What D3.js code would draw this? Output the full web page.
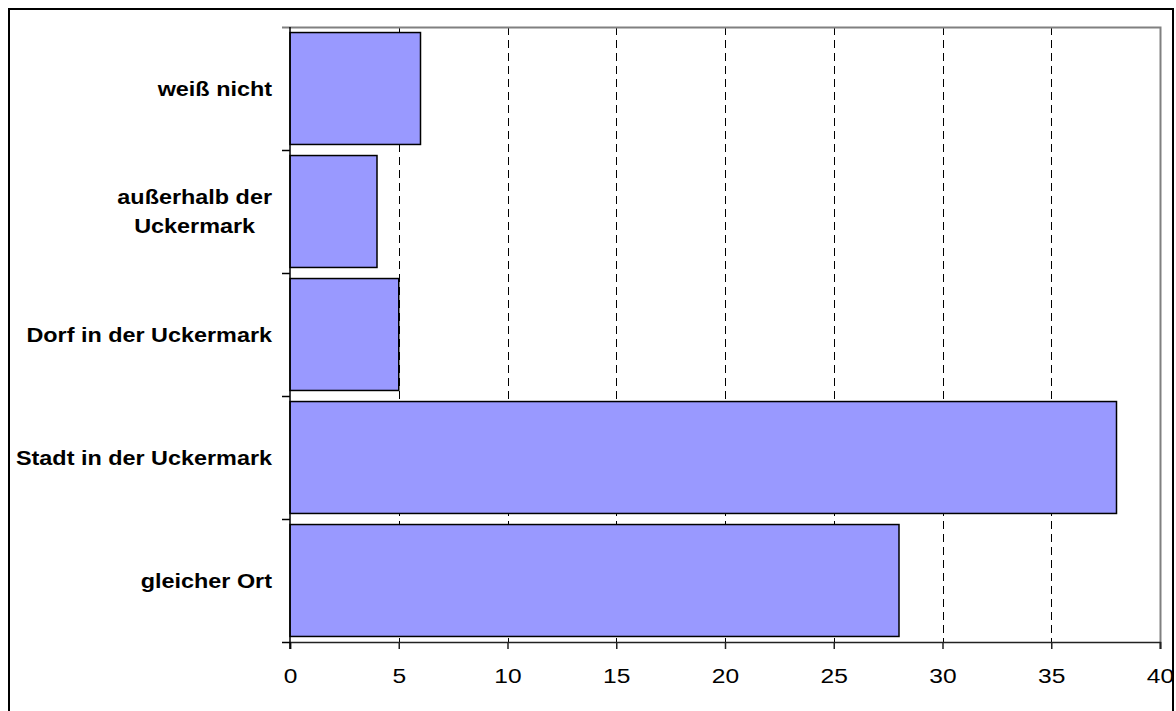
<!DOCTYPE html>
<html>
<head>
<meta charset="utf-8">
<script src="https://cdn.jsdelivr.net/npm/d3@7"></script>
<style>
  html, body { margin: 0; padding: 0; background: #fff; }
  svg { display: block; font-family: "Liberation Sans", Arial, sans-serif; }
</style>
</head>
<body>
<svg id="chart" width="1176" height="711"></svg>
<script>
// Categories, listed top to bottom; multi-line labels are split on "\n"
const categories = [
  "weiß nicht",
  "außerhalb der\nUckermark",
  "Dorf in der Uckermark",
  "Stadt in der Uckermark",
  "gleicher Ort"
];
const values = [6, 4, 5, 38, 28];
const xTicks = [0, 5, 10, 15, 20, 25, 30, 35, 40];

const svg = d3.select("#chart");
const plot = { left: 290, right: 1160, top: 27, bottom: 642 };
const stretch = 1.17; // horizontal text stretch

const x = d3.scaleLinear().domain([0, 40]).range([plot.left, plot.right]);
const y = d3.scaleBand().domain(categories).range([plot.top, plot.bottom])
  .paddingInner(0.09).paddingOuter(0.045);

// outer frame
svg.append("rect")
  .attr("x", 9).attr("y", 9).attr("width", 1164).attr("height", 712)
  .attr("fill", "none").attr("stroke", "#000").attr("stroke-width", 2);

// dashed vertical gridlines
svg.append("g")
  .selectAll("line")
  .data(xTicks.filter(t => t > 0 && t < 40))
  .join("line")
  .attr("x1", d => Math.round(x(d)) + 0.5).attr("x2", d => Math.round(x(d)) + 0.5)
  .attr("y1", plot.top).attr("y2", plot.bottom)
  .attr("stroke", "#000").attr("stroke-width", 1)
  .attr("stroke-dasharray", "8,5");

// plot border (top and right) in grey
svg.append("path")
  .attr("d", `M${plot.left - 8},${plot.top + 0.5}H${plot.right + 0.5}V${plot.bottom + 7}`)
  .attr("fill", "none").attr("stroke", "#808080").attr("stroke-width", 2);

// bars
svg.append("g")
  .selectAll("rect")
  .data(categories.map((c, i) => ({ c, v: values[i] })))
  .join("rect")
  .attr("x", x(0))
  .attr("y", d => y(d.c))
  .attr("width", d => x(d.v) - x(0))
  .attr("height", y.bandwidth())
  .attr("fill", "#9999FF")
  .attr("stroke", "#000")
  .attr("stroke-width", 1.5);

// bottom axis
const xAxis = d3.axisBottom(x).tickValues(xTicks).tickSize(7).tickPadding(19).tickFormat(d3.format("d"));
const gx = svg.append("g").attr("transform", `translate(0,${plot.bottom})`).call(xAxis);
gx.select(".domain").attr("stroke", "#222").attr("stroke-width", 1.5);
gx.selectAll(".tick line").attr("stroke", "#222").attr("stroke-width", 1.5);
gx.selectAll(".tick text")
  .attr("font-size", 21).attr("fill", "#000")
  .attr("font-family", "'Liberation Sans', Arial, sans-serif")
  .attr("transform", `scale(${stretch},1)`);

// left axis: boundaries between categories
const boundaries = d3.range(categories.length + 1).map(i => plot.top + i * (plot.bottom - plot.top) / categories.length);
const gy = svg.append("g");
gy.append("line")
  .attr("x1", plot.left).attr("x2", plot.left)
  .attr("y1", plot.top).attr("y2", plot.bottom + 7)
  .attr("stroke", "#000").attr("stroke-width", 1.5);
gy.selectAll("line.tk")
  .data(boundaries.slice(1))
  .join("line").attr("class", "tk")
  .attr("x1", plot.left - 8).attr("x2", plot.left)
  .attr("y1", d => Math.round(d) + 0.5).attr("y2", d => Math.round(d) + 0.5)
  .attr("stroke", "#000").attr("stroke-width", 1.5);

// category labels
const labelRight = 272;
const lineGap = 29;
categories.forEach((c, i) => {
  const lines = c.split("\n");
  const cy = y(c) + y.bandwidth() / 2;
  const g = svg.append("g")
    .attr("transform", `translate(${labelRight},${cy}) scale(${stretch},1)`);
  const t = g.append("text")
    .attr("font-size", 20).attr("font-weight", "bold").attr("fill", "#000")
    .attr("dominant-baseline", "central");
  lines.forEach((ln, j) => {
    t.append("tspan").attr("x", 0)
      .attr("y", (j - (lines.length - 1) / 2) * lineGap)
      .text(ln);
  });
  if (lines.length > 1) {
    // centre the lines on each other, right edge aligned with the widest one
    const spans = t.selectAll("tspan").nodes();
    const widths = spans.map(s => s.getComputedTextLength());
    const w = d3.max(widths);
    spans.forEach(s => d3.select(s).attr("x", -w / 2).attr("text-anchor", "middle"));
  } else {
    t.attr("text-anchor", "end");
  }
});
</script>
</body>
</html>
